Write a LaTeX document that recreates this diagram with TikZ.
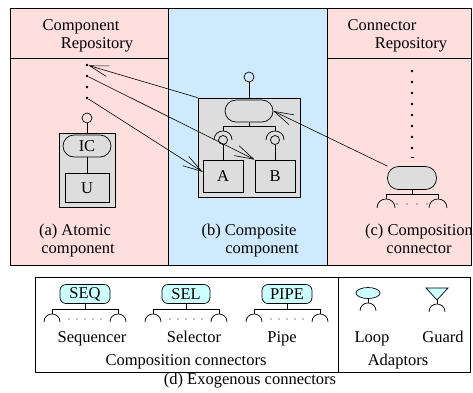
\documentclass[tikz,border=0pt]{standalone}
\usepackage{fontspec}
\setmainfont{Liberation Serif}
\usetikzlibrary{arrows.meta,calc,shapes.geometric}
\definecolor{pinkc}{RGB}{255,222,222}
\definecolor{bluec}{RGB}{206,234,252}
\definecolor{grayc}{RGB}{221,221,221}
\definecolor{cyanc}{RGB}{204,255,255}
\begin{document}
\begin{tikzpicture}[x=1pt,y=-1pt,
  font=\fontsize{16.5}{18}\selectfont,
  line width=0.7pt,
  panel/.style={draw, anchor=north west, inner sep=0pt, outer sep=0pt},
  txt/.style={anchor=base, inner sep=0pt},
  dot/.style={circle, fill=black, inner sep=0pt, minimum size=2.6pt},
  sdot/.style={circle, fill=black, inner sep=0pt, minimum size=1.3pt},
  ball/.style={circle, draw, inner sep=0pt, minimum size=10pt},
  gbox/.style={draw, fill=grayc, inner sep=0pt},
  caps/.style={draw, fill=grayc, inner sep=0pt, rounded corners=11pt},
  ccaps/.style={draw, fill=cyanc, inner sep=0pt, rounded corners=6pt, minimum height=19pt},
  arr/.style={-{Straight Barb[length=19pt,width=11pt]}, line width=0.6pt},
  pics/cap/.style={code={\draw (-#1,#1) .. controls (-#1,-#1/3) and (#1,-#1/3) .. (#1,#1);}}
]
\useasboundingbox (0,0) rectangle (473,392);

% ---------- panels ----------
\node[panel, fill=pinkc, minimum width=158pt, minimum height=257pt] (pa) at (10,8) {};
\node[panel, fill=bluec, minimum width=159pt, minimum height=257pt] (pb) at (168,8) {};
\node[panel, fill=pinkc, minimum width=144pt, minimum height=257pt] (pc) at (327,8) {};
\draw (10,58) -- (168,58);
\draw (327,58) -- (471,58);

% ---------- (a) atomic component ----------
\node[txt] (ta1) at (81,30) {Component};
\node[txt] (ta2) at (97,48) {Repository};
\node[dot] (d1) at (87,65) {};
\node[dot] (d2) at (87,76) {};
\node[dot] (d3) at (87,87) {};
\node[dot] (d4) at (87,98) {};
\node[ball] (ia) at (87,118) {};
\node[gbox, minimum width=56pt, minimum height=74pt] (ga) at (87,170) {};
\node[caps, minimum width=48pt, minimum height=22pt] (ic) at (87,146) {IC};
\node[gbox, minimum width=44pt, minimum height=29pt] (u) at (87,188) {U};
\draw (ia) -- (ga);
\draw (ic) -- (u);
\node[txt] (ta3) at (75,235) {(a) Atomic};
\node[txt] (ta4) at (78,253) {component};

% ---------- (b) composite component ----------
\node[ball] (ib) at (249,77) {};
\node[gbox, minimum width=102pt, minimum height=99pt] (gb) at (249,147.5) {};
\node[caps, minimum width=48pt, minimum height=22pt] (cb) at (249,111) {};
\node[gbox, minimum width=40pt, minimum height=32pt] (A) at (223,176) {A};
\node[gbox, minimum width=40pt, minimum height=32pt] (B) at (275,176) {B};
\node[ball, minimum size=9pt] (ba) at (223,140) {};
\node[ball, minimum size=9pt] (bb) at (275,140) {};
\coordinate (bl) at (223,126);
\coordinate (br) at (275,126);
\draw (ib) -- (gb);
\draw (cb) -- (cb |- bl);
\draw (bl) -- (br);
\draw (bl) -- ++(0,5);
\draw (br) -- ++(0,5);
\pic at (223,131) {cap=9};
\pic at (275,131) {cap=9};
\draw (ba) -- (A);
\draw (bb) -- (B);
\node[txt] (tb1) at (249,235) {(b) Composite};
\node[txt] (tb2) at (262,253) {component};

% ---------- (c) composition connector ----------
\node[txt] (tc1) at (382,30) {Connector};
\node[txt] (tc2) at (411,48) {Repository};
\foreach \k in {0,...,7} { \node[dot] (c\k) at (412,71+11*\k) {}; }
\draw[line width=0.4pt] (410.5,157) -- (413.5,157);
\node[caps, minimum width=49pt, minimum height=23pt] (cc) at (412,178) {};
\coordinate (cl) at (386,194);
\coordinate (cr) at (438,194);
\draw (cc) -- (cc |- cl);
\draw (cl) -- (cr);
\draw (cl) -- ++(0,5);
\draw (cr) -- ++(0,5);
\pic at (386,199) {cap=9};
\pic at (438,199) {cap=9};
\foreach \x in {397,407,417,427} { \node[sdot] at (\x,204) {}; }
\node[txt] (tc3) at (419,235) {(c) Composition};
\node[txt] (tc4) at (419,253) {connector};

% ---------- arrows ----------
\draw[arr] (gb.north west) -- (d1);
\draw[arr] (d2) -- (B.north west);
\draw[arr] (d4) -- ($(A.north west)!0.375!(A.south west)$);
\draw[arr] (cc) -- (cb.east);

% ---------- (d) exogenous connectors ----------
\node[panel, fill=white, minimum width=435pt, minimum height=95pt] (pd) at (35,277) {};
\draw (338,277) -- (338,372);
\foreach \c/\n/\t/\w in {85/seq/SEQ/50, 186/sel/SEL/48, 287/pip/PIPE/50} {
  \node[ccaps, minimum width=\w pt] (\n) at (\c,294) {\t};
  \coordinate (\n l) at (\c-33,309);
  \coordinate (\n r) at (\c+33,309);
  \draw (\n) -- (\n |- \n l);
  \draw (\n l) -- (\n r);
  \draw (\n l) -- ++(0,5);
  \draw (\n r) -- ++(0,5);
  \pic at (\c-33,314) {cap=8};
  \pic at (\c+33,314) {cap=8};
  \foreach \dx in {-16,-8,0,8,16} { \node[sdot] at (\c+\dx,319) {}; }
}
\node[txt] (t1) at (92,342) {Sequencer};
\node[txt] (t2) at (194,342) {Selector};
\node[txt] (t3) at (282,342) {Pipe};
\node[txt] (t4) at (186,365) {Composition connectors};

\node[ellipse, draw, fill=cyanc, inner sep=0pt, minimum width=24pt, minimum height=11pt] (loop) at (368,293) {};
\coordinate (lc) at (368,303);
\draw (loop) -- (lc);
\pic at (368,303) {cap=8};
\draw[fill=cyanc] (426,288) -- (448,288) -- (437,300) -- cycle;
\coordinate (gt) at (437,300);
\coordinate (gc) at (437,304);
\draw (gt) -- (gc);
\pic at (437,304) {cap=8};
\node[txt] (t5) at (372,342) {Loop};
\node[txt] (t6) at (443,342) {Guard};
\node[txt] (t7) at (398,365) {Adaptors};
\node[txt] (t8) at (250,384) {(d) Exogenous connectors};
\end{tikzpicture}
\end{document}
